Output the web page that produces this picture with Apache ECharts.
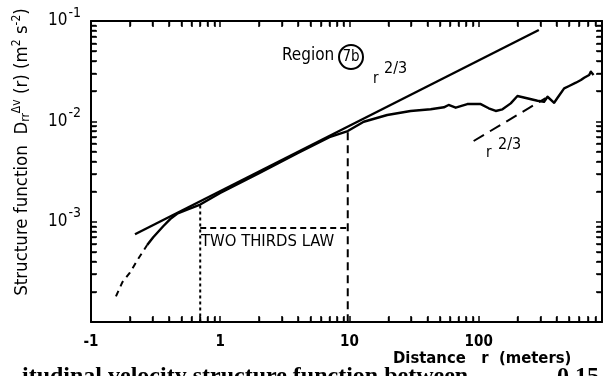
<!DOCTYPE html>
<html>
<head>
<meta charset="utf-8">
<title>Structure function</title>
<script src="https://cdn.jsdelivr.net/npm/echarts@6/dist/echarts.min.js"></script>
<style>
  html, body { margin: 0; padding: 0; background: #fff; }
  #chart { width: 605px; height: 376px; }
</style>
</head>
<body>
<div id="chart"></div>
<script>
// Axis ranges, tick positions and tick labels
const xRange = [0.1, 900];
const yRange = [1e-4, 1e-1];
const xTicks = [0.1, 0.2, 0.3, 0.4, 0.5, 0.6, 0.7, 0.8, 0.9,
                1, 2, 3, 4, 5, 6, 7, 8, 9,
                10, 20, 30, 40, 50, 60, 70, 80, 90,
                100, 200, 300, 400, 500, 600, 700, 800, 900];
const yTicks = [1e-4, 2e-4, 3e-4, 4e-4, 5e-4, 6e-4, 7e-4, 8e-4, 9e-4,
                1e-3, 2e-3, 3e-3, 4e-3, 5e-3, 6e-3, 7e-3, 8e-3, 9e-3,
                1e-2, 2e-2, 3e-2, 4e-2, 5e-2, 6e-2, 7e-2, 8e-2, 9e-2, 1e-1];
const xTickLabels = { '0.1': '-1', '1': '1', '10': '10', '100': '100' };
const yTickExponents = { '0.1': '-1', '0.01': '-2', '0.001': '-3' };

// Measured structure function, small-r part (broken trace)
const lowR = [0.156, 0.175, 0.2, 0.23, 0.272];
const lowD = [1.8e-4, 2.5e-4, 3.1e-4, 4.2e-4, 5.85e-4];

// Measured structure function, continuous trace
const measR = [0.272, 0.303, 0.362, 0.41, 0.464, 0.555, 0.70, 1, 2, 4, 7, 9.7,
               12.9, 19.6, 29.7, 42.5, 53.8, 58.5, 66.4, 81.7, 103.7, 119.6, 135.5,
               152.8, 177, 199.5, 245.5, 285, 320.7, 341, 383.7, 407.6, 458.5,
               501, 565, 618, 655, 716, 738, 774];
const measD = [5.85e-4, 7.0e-4, 9.0e-4, 1.06e-3, 1.2e-3, 1.32e-3, 1.48e-3, 1.93e-3,
               3.05e-3, 4.83e-3, 6.97e-3, 8.0e-3,
               9.9e-3, 0.01156, 0.01268, 0.01318, 0.0138, 0.01455, 0.01368, 0.01486,
               0.01486, 0.01349, 0.01268, 0.01318, 0.0151, 0.01787, 0.0168, 0.01603,
               0.01566, 0.01758, 0.01531, 0.01718, 0.02133, 0.0225, 0.02427, 0.02583,
               0.02723, 0.02897, 0.03126, 0.02897];

// Two-thirds law reference line (solid) and large-r r^2/3 guide (dashed)
const lawR = [0.219, 292];
const lawD = [7.5e-4, 0.0813];
const guideR = [91.4, 330];
const guideD = [6.37e-3, 0.01706];

// Bounds of the two-thirds range
const rangeLowR = 0.7;
const rangeLowD = 1.45e-3;
const rangeHighR = 9.7;
const rangeHighD = 7.8e-3;
const rangeArrowD = 8.63e-4;

const pairs = (xs, ys) => xs.map((x, i) => [x, ys[i]]);

const FONT = '"DejaVu Sans Condensed", "Liberation Sans Narrow", "DejaVu Sans", sans-serif';
const INK = '#000';

// Log axes framing the plot; inward ticks at 1..9 of each decade
function xAxisDef(position, withLabels) {
  return {
    type: 'log', logBase: 10, min: xRange[0], max: xRange[1], position: position,
    axisLine: { show: true, onZero: false, lineStyle: { color: INK, width: 2 } },
    axisTick: { show: true, inside: true, length: 6, customValues: xTicks,
                lineStyle: { color: INK, width: 1.5 } },
    minorTick: { show: true, splitNumber: 9, length: 5, lineStyle: { color: INK, width: 1.4 } },
    axisLabel: withLabels ? {
      show: true, margin: 13, customValues: [0.1, 1, 10, 100],
      color: INK, fontFamily: FONT, fontSize: 15, fontWeight: 'bold',
      formatter: v => xTickLabels[String(+(+v).toPrecision(3))] || ''
    } : { show: false },
    splitLine: { show: false }
  };
}
function yAxisDef(position, withLabels) {
  return {
    type: 'log', logBase: 10, min: yRange[0], max: yRange[1], position: position,
    axisLine: { show: true, onZero: false, lineStyle: { color: INK, width: 2 } },
    axisTick: { show: true, inside: true, length: 6, customValues: yTicks,
                lineStyle: { color: INK, width: 1.5 } },
    minorTick: { show: true, splitNumber: 9, length: 5, lineStyle: { color: INK, width: 1.4 } },
    axisLabel: withLabels ? {
      show: true, margin: 10, customValues: [1e-3, 1e-2, 1e-1], color: INK, fontFamily: FONT,
      formatter: v => {
        const e = yTickExponents[String(+(+v).toPrecision(3))];
        return e ? '{b|10}{s|' + e + '}' : '';
      },
      rich: {
        b: { fontFamily: FONT, fontSize: 17, color: INK },
        s: { fontFamily: FONT, fontSize: 14, color: INK, padding: [0, 0, 16, 1] }
      }
    } : { show: false },
    splitLine: { show: false }
  };
}

const chart = echarts.init(document.getElementById('chart'), null, { renderer: 'canvas' });

const option = {
  animation: false,
  backgroundColor: '#fff',
  grid: { left: 91, top: 21, right: 3, bottom: 54, containLabel: false },
  xAxis: [xAxisDef('bottom', true), xAxisDef('top', false)],
  yAxis: [yAxisDef('left', true), yAxisDef('right', false)],
  series: [
    {
      name: 'two-thirds law', type: 'line', showSymbol: false, silent: true,
      data: pairs(lawR, lawD),
      lineStyle: { color: INK, width: 2.4 }
    },
    {
      name: 'measured (small r)', type: 'line', showSymbol: false, silent: true,
      data: pairs(lowR, lowD),
      lineStyle: { color: INK, width: 2, type: [6, 5] }
    },
    {
      name: 'measured', type: 'line', showSymbol: false, silent: true,
      data: pairs(measR, measD),
      lineStyle: { color: INK, width: 2.4, join: 'round' }
    },
    {
      name: 'r^2/3 guide', type: 'line', showSymbol: false, silent: true,
      data: pairs(guideR, guideD),
      lineStyle: { color: INK, width: 2, type: [12, 7] }
    },
    {
      name: 'lower bound', type: 'line', showSymbol: false, silent: true,
      data: [[rangeLowR, rangeLowD], [rangeLowR, yRange[0]]],
      lineStyle: { color: INK, width: 2, type: [3, 3] }
    },
    {
      name: 'upper bound', type: 'line', showSymbol: false, silent: true,
      data: [[rangeHighR, rangeHighD], [rangeHighR, yRange[0]]],
      lineStyle: { color: INK, width: 2, type: [8, 5] }
    },
    {
      name: 'range', type: 'line', showSymbol: false, silent: true,
      data: [[rangeLowR, rangeArrowD], [rangeHighR, rangeArrowD]],
      lineStyle: { color: INK, width: 2, type: [6, 4] }
    }
  ],
  graphic: [
    {
      type: 'text', x: 22, y: 152, rotation: Math.PI / 2,
      style: {
        text: 'Structure function  D{sub|rr}{sup|Δv} (r) (m{sup|2} s{sup|-2})',
        fontFamily: FONT, fontSize: 18.5, fill: INK,
        align: 'center', verticalAlign: 'middle',
        rich: {
          sub: { fontFamily: FONT, fontSize: 12, fill: INK, padding: [7, 0, 0, 0] },
          sup: { fontFamily: FONT, fontSize: 12, fill: INK, padding: [0, 0, 11, 0] }
        }
      }
    },
    {
      type: 'text', x: 393, y: 350,
      style: { text: 'Distance   r  (meters)', fontFamily: FONT, fontSize: 16.5,
               fontWeight: 'bold', fill: INK }
    },
    {
      type: 'text', x: 22, y: 365,
      style: { text: 'itudinal velocity structure function between',
               fontFamily: '"Liberation Serif", serif', fontSize: 24,
               fontWeight: 'bold', fill: INK }
    },
    {
      type: 'text', x: 557, y: 365,
      style: { text: '0.15', fontFamily: '"Liberation Serif", serif', fontSize: 24,
               fontWeight: 'bold', fill: INK }
    },
    {
      type: 'text', x: 282, y: 47,
      style: { text: 'Region', fontFamily: FONT, fontSize: 17, fill: INK }
    },
    {
      type: 'circle', shape: { cx: 351, cy: 57, r: 12 },
      style: { fill: 'none', stroke: INK, lineWidth: 2 }
    },
    {
      type: 'text', x: 351, y: 57,
      style: { text: '7b', fontFamily: FONT, fontSize: 15, fill: INK,
               align: 'center', verticalAlign: 'middle' }
    },
    {
      type: 'text', x: 373, y: 72,
      style: { text: 'r', fontFamily: FONT, fontSize: 15, fill: INK }
    },
    {
      type: 'text', x: 384, y: 61,
      style: { text: '2/3', fontFamily: FONT, fontSize: 16, fill: INK }
    },
    {
      type: 'text', x: 486, y: 146,
      style: { text: 'r', fontFamily: FONT, fontSize: 15, fill: INK }
    },
    {
      type: 'text', x: 498, y: 137,
      style: { text: '2/3', fontFamily: FONT, fontSize: 16, fill: INK }
    },
    {
      type: 'text', x: 201, y: 233,
      style: { text: 'TWO THIRDS LAW', fontFamily: FONT, fontSize: 16.5, fill: INK }
    }
  ]
};

chart.setOption(option);
</script>
</body>
</html>
